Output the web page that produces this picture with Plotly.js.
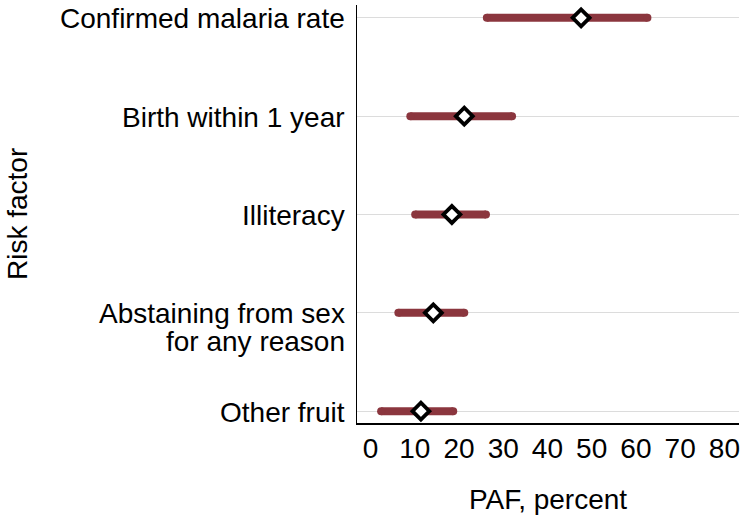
<!DOCTYPE html>
<html>
<head>
<meta charset="utf-8">
<script src="https://cdn.plot.ly/plotly-3.0.1.min.js"></script>
<style>
html,body{margin:0;padding:0;background:#fff;}
#chart{width:747px;height:519px;}
</style>
</head>
<body>
<div id="chart"></div>
<script>
// Risk factors, bottom to top
const categories = ["Other fruit", "Abstaining from sex for any reason", "Illiteracy", "Birth within 1 year", "Confirmed malaria rate"];
const tickLabelLines = [["Other fruit"], ["Abstaining from sex", "for any reason"], ["Illiteracy"], ["Birth within 1 year"], ["Confirmed malaria rate"]];
const pafEstimate = [11.4, 14.2, 18.4, 21.2, 47.6];
const pafLower = [2.4, 6.3, 10.1, 9.0, 26.3];
const pafUpper = [18.7, 21.2, 26.1, 32.0, 62.6];
const xTicks = [0, 10, 20, 30, 40, 50, 60, 70, 80];
const xTitle = "PAF, percent";
const yTitle = "Risk factor";

const yIdx = categories.map((c, i) => i);
const ciX = [], ciY = [];
categories.forEach((c, i) => {
  ciX.push(pafLower[i], pafUpper[i], null);
  ciY.push(i, i, null);
});

const barColor = "rgb(139,54,62)";
const font = "Liberation Sans, Arial, Helvetica, sans-serif";
const fs = 28;

const traces = [
  {
    x: ciX, y: ciY, type: "scatter", mode: "lines+markers",
    line: {color: barColor, width: 8},
    marker: {color: barColor, size: 8, symbol: "circle", line: {width: 0}},
    connectgaps: false, hoverinfo: "skip", showlegend: false
  },
  {
    x: pafEstimate, y: yIdx, type: "scatter", mode: "markers",
    marker: {symbol: "diamond", size: 13, color: "#ffffff", line: {color: "#000000", width: 3.8}},
    showlegend: false
  }
];

const annotations = [];
tickLabelLines.forEach((lines, i) => {
  lines.forEach((t, k) => {
    annotations.push({
      text: t, xref: "paper", x: 0, xanchor: "right", xshift: -10,
      yref: "y", y: i, yanchor: "middle", yshift: -1 - 28 * k,
      showarrow: false, font: {family: font, size: fs, color: "#000"}
    });
  });
});
annotations.push({
  text: yTitle, xref: "paper", x: 0, xanchor: "center", xshift: -340,
  yref: "paper", y: 0.5, yanchor: "middle", textangle: -90,
  showarrow: false, font: {family: font, size: fs, color: "#000"}
});

const layout = {
  width: 747, height: 519,
  margin: {l: 357, r: 8, t: 5, b: 96},
  paper_bgcolor: "#ffffff", plot_bgcolor: "#ffffff",
  font: {family: font, size: fs, color: "#000"},
  xaxis: {
    range: [-3.05, 83.3], tickvals: xTicks, ticktext: xTicks.map(String),
    showgrid: false, zeroline: false,
    showline: true, linecolor: "#000", linewidth: 1.5,
    ticks: "",
    tickfont: {size: fs, family: font},
    title: {text: xTitle, font: {size: fs, family: font}, standoff: 26}
  },
  yaxis: {
    range: [-0.12, 4.13], tickvals: yIdx, showticklabels: false,
    showgrid: true, gridcolor: "#dcdcdc", gridwidth: 1,
    zeroline: false, showline: true, linecolor: "#000", linewidth: 1.5,
    ticks: ""
  },
  annotations: annotations
};

Plotly.newPlot("chart", traces, layout, {displayModeBar: false, staticPlot: true});
</script>
</body>
</html>
